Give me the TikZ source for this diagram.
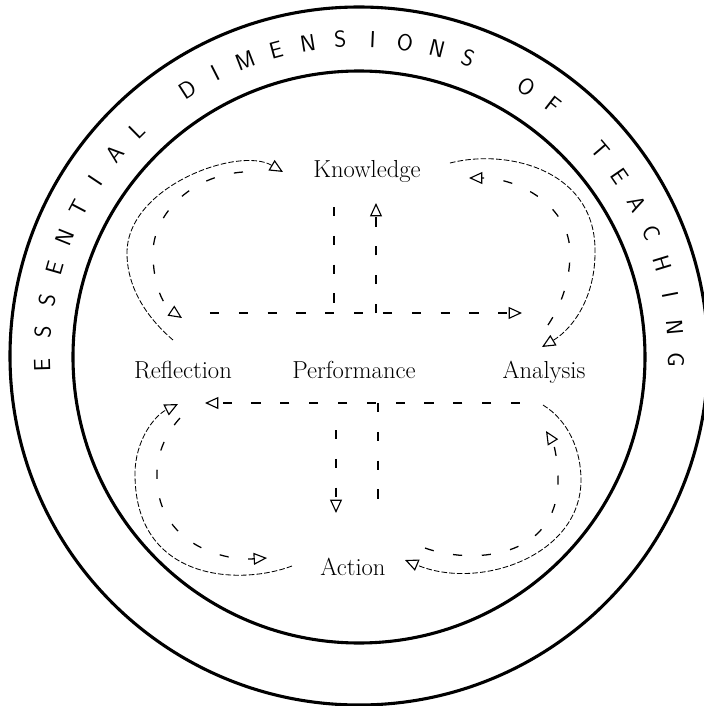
\documentclass[tikz,border=0pt]{standalone}
\usepackage{fontspec}
\usepackage{tikz}
\usetikzlibrary{arrows.meta,positioning}

\begin{document}
\begin{tikzpicture}[x=0.025cm, y=0.025cm,
    ring/.style={draw, line width=2.2pt},
    dim/.style={font=\fontsize{17.5}{20}\selectfont, inner sep=2pt, anchor=base},
    letter/.style={font=\sffamily\fontsize{16.5}{18}\selectfont, inner sep=0pt},
    tip/.style={-{Triangle[open, length=9.5pt, width=8.5pt, line width=0.8pt]}},
    outcurve/.style={line width=0.6pt, dash pattern=on 4pt off 1.5pt},
    flow/.style={line width=0.9pt, dash pattern=on 6.5pt off 14pt}]
  \useasboundingbox (-359,-350) rectangle (345,356);
  % rings
  \draw[ring] (0,0) circle (349);
  \draw[ring] (0,-1) circle (286);
  \foreach \i/\ch in {1/E,2/S,3/S,4/E,5/N,6/T,7/I,8/A,9/L,
      11/D,12/I,13/M,14/E,15/N,16/S,17/I,18/O,19/N,20/S,
      22/O,23/F,25/T,26/E,27/A,28/C,29/H,30/I,31/N,32/G}
    \node[letter, rotate={91.6-(\i-1)*5.88}] (c\i) at ({181.6-(\i-1)*5.88}:317) {\ch};

  % the five dimensions
  \node[dim] (know) at (8,179) {Knowledge};
  \node[dim] (refl) at (-176,-22) {Reflection};
  \node[dim] (perf) at (-5,-22) {Performance};
  \node[dim] (anly) at (185,-22) {Analysis};
  \node[dim] (act) at (-6,-219) {Action};

  % loose ends of the loops
  \coordinate (tlo) at (-186,16);  \coordinate (tlo') at (-76,184);
  \coordinate (tli) at (-116,184); \coordinate (tli') at (-177,38);
  \coordinate (tro) at (91,193);   \coordinate (tro') at (183,9);
  \coordinate (tri) at (189,31);   \coordinate (tri') at (110,178);
  \coordinate (blo) at (-67,-210); \coordinate (blo') at (-181,-48);
  \coordinate (bli) at (-179,-62); \coordinate (bli') at (-92,-202);
  \coordinate (bro) at (184,-49);  \coordinate (bro') at (46,-204);
  \coordinate (bri) at (66,-192);  \coordinate (bri') at (187,-75);
  % ends of the straight lines
  \coordinate (hl) at (-149,43);   \coordinate (hr) at (163,43);
  \coordinate (vk) at (-25,149);   \coordinate (vu) at (17,153);
  \coordinate (gr) at (161,-47);   \coordinate (gl) at (-154,-47);
  \coordinate (va) at (19,-157);   \coordinate (vd) at (-23,-74);
  \coordinate (vd') at (-23,-157);

  % Reflection <-> Knowledge
  \draw[outcurve, tip] (tlo) .. controls (-214,40) and (-232,70) .. (-232,103)
    .. controls (-232,170) and (-120,210) .. (tlo');
  \draw[flow, tip] (tli) .. controls (-170,180) and (-206,140) .. (-206,103)
    .. controls (-206,70) and (-195,50) .. (tli');
  % Knowledge <-> Analysis
  \draw[outcurve, tip] (tro) .. controls (150,208) and (238,185) .. (236,103)
    .. controls (236,60) and (215,28) .. (tro');
  \draw[flow, tip] (tri) .. controls (205,55) and (211,80) .. (211,103)
    .. controls (211,150) and (160,178) .. (tri');
  % Action <-> Reflection
  \draw[outcurve, tip] (blo) .. controls (-120,-230) and (-224,-225) .. (-224,-118)
    .. controls (-224,-85) and (-205,-60) .. (blo');
  \draw[flow, tip] (bli) .. controls (-195,-80) and (-203,-100) .. (-202,-124)
    .. controls (-200,-185) and (-140,-205) .. (bli');
  % Analysis <-> Action
  \draw[outcurve, tip] (bro) .. controls (210,-65) and (222,-95) .. (222,-124)
    .. controls (222,-200) and (120,-235) .. (bro');
  \draw[flow, tip] (bri) .. controls (110,-208) and (199,-205) .. (199,-124)
    .. controls (199,-105) and (195,-88) .. (bri');

  % Performance lines
  \draw[flow, tip] (hl) -- (hr);
  \draw[flow] (vk) -- (vk |- hl);
  \draw[flow, tip] (vu |- hl) -- (vu);
  \draw[flow, tip] (gr) -- (gl);
  \draw[flow] (va |- gr) -- (va);
  \draw[flow, tip] (vd) -- (vd');
\end{tikzpicture}
\end{document}
